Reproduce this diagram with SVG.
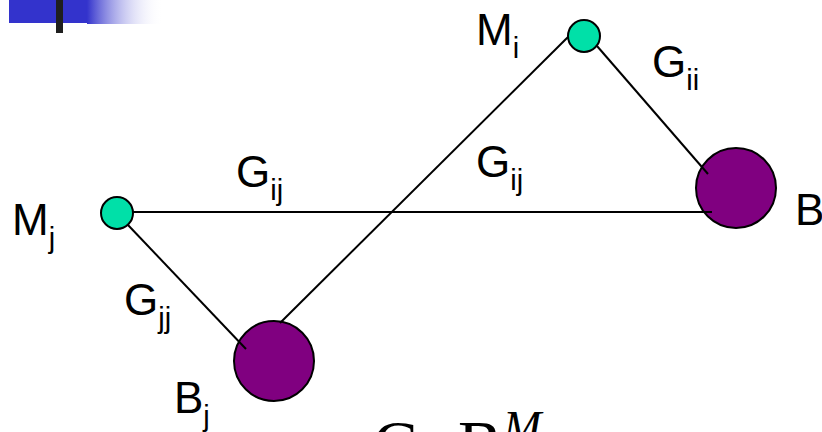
<svg xmlns="http://www.w3.org/2000/svg" width="822" height="432" viewBox="0 0 822 432">
<defs>
<linearGradient id="fade" x1="0" y1="0" x2="1" y2="0">
<stop offset="0" stop-color="#3333CC"/>
<stop offset="1" stop-color="#FFFFFF" stop-opacity="0"/>
</linearGradient>
</defs>
<style>
.lbl{font-family:"Liberation Sans",Arial,sans-serif;font-size:44px;fill:#000}
.sub{font-size:29px}
.edge{stroke:#000;stroke-width:2;fill:none}
.m{fill:#00E0A8;stroke:#000;stroke-width:2}
.b{fill:#800080;stroke:#000;stroke-width:2}
.eq{font-family:"Liberation Serif","Times New Roman",serif;fill:#000}
</style>
<rect x="0" y="0" width="822" height="432" fill="#fff"/>
<g id="banner">
<rect x="9" y="0" width="78" height="23" fill="#3333CC"/>
<rect x="87" y="0" width="76" height="24" fill="url(#fade)"/>
<rect x="56" y="0" width="7" height="33" fill="#1F1F1F"/>
</g>
<g id="Bi"><circle class="b" cx="736" cy="188" r="40"/><text class="lbl" x="795" y="225">B<tspan class="sub" dy="13">i</tspan></text></g>
<g id="Bj"><circle class="b" cx="274" cy="361" r="40"/><text class="lbl" x="174" y="413">B<tspan class="sub" dy="13">j</tspan></text></g>
<g id="connectors">
<line class="edge" x1="133" y1="212" x2="712" y2="212"/>
<line class="edge" x1="128" y1="225" x2="246" y2="349"/>
<line class="edge" x1="280" y1="323" x2="568" y2="37"/>
<line class="edge" x1="597" y1="46" x2="708" y2="174"/>
</g>
<g id="Mi"><circle class="m" cx="584" cy="36" r="16"/><text class="lbl" x="476" y="45">M<tspan class="sub" dy="13">i</tspan></text></g>
<g id="Mj"><circle class="m" cx="117" cy="213" r="16"/><text class="lbl" x="12" y="235">M<tspan class="sub" dy="13">j</tspan></text></g>
<g id="edge-labels">
<text class="lbl" x="652" y="77">G<tspan class="sub" dy="13">ii</tspan></text>
<text class="lbl" x="236" y="187">G<tspan class="sub" dy="13">ij</tspan></text>
<text class="lbl" x="476" y="177">G<tspan class="sub" dy="13">ij</tspan></text>
<text class="lbl" x="124" y="315">G<tspan class="sub" dy="13">jj</tspan></text>
</g>
<g id="formula">
<text class="eq" x="373" y="466" font-size="66">G=B</text>
<text class="eq" x="503" y="443" font-size="46" font-style="italic">M</text>
</g>
</svg>
